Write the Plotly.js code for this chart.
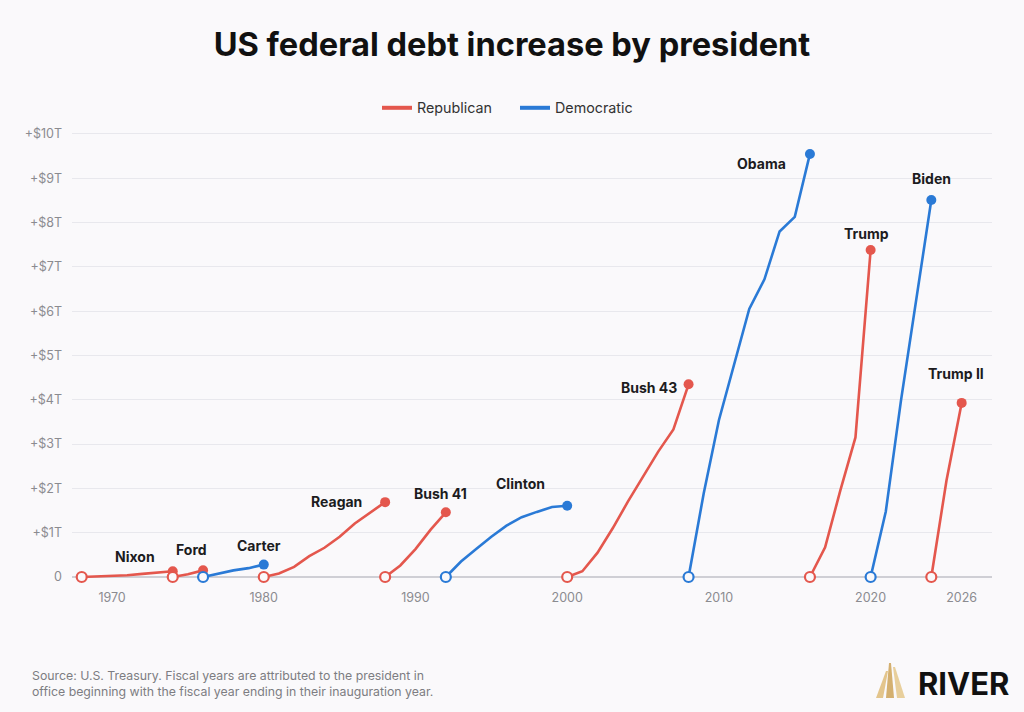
<!DOCTYPE html>
<html><head><meta charset="utf-8">
<script src="https://cdn.plot.ly/plotly-3.0.1.min.js"></script>
<style>html,body{margin:0;padding:0;background:#faf9fb}#chart{width:1024px;height:712px}</style>
</head><body><div id="chart"></div>
<script>
// ---------- DATA (debt increase since start of term, $ trillions) ----------
const presidents = ['Nixon','Ford','Carter','Reagan','Bush 41','Clinton','Bush 43','Obama','Trump','Biden','Trump II'];
const parties    = ['Republican','Republican','Democratic','Republican','Republican','Democratic','Republican','Democratic','Republican','Democratic','Republican'];

const nixonYears   = [1968,1969,1970,1971,1972,1973,1974];
const nixonValues  = [0, 0.01, 0.02, 0.04, 0.07, 0.10, 0.13];
const fordYears    = [1974,1975,1976];
const fordValues   = [0, 0.06, 0.15];
const carterYears  = [1976,1977,1978,1979,1980];
const carterValues = [0, 0.08, 0.15, 0.20, 0.28];
const reaganYears  = [1980,1981,1982,1983,1984,1985,1986,1987,1988];
const reaganValues = [0, 0.08, 0.23, 0.47, 0.66, 0.91, 1.21, 1.44, 1.69];
const bush41Years  = [1988,1989,1990,1991,1992];
const bush41Values = [0, 0.26, 0.63, 1.07, 1.46];
const clintonYears = [1992,1993,1994,1995,1996,1997,1998,1999,2000];
const clintonValues= [0, 0.35, 0.63, 0.91, 1.16, 1.35, 1.47, 1.58, 1.61];
const bush43Years  = [2000,2001,2002,2003,2004,2005,2006,2007,2008];
const bush43Values = [0, 0.13, 0.55, 1.10, 1.70, 2.26, 2.83, 3.33, 4.35];
const obamaYears   = [2008,2009,2010,2011,2012,2013,2014,2015,2016];
const obamaValues  = [0, 1.89, 3.54, 4.77, 6.05, 6.72, 7.80, 8.13, 9.55];
const trumpYears   = [2016,2017,2018,2019,2020];
const trumpValues  = [0, 0.67, 1.95, 3.15, 7.38];
const bidenYears   = [2020,2021,2022,2023,2024];
const bidenValues  = [0, 1.48, 3.98, 6.22, 8.51];
const trump2Years  = [2024,2025,2026];
const trump2Values = [0, 2.18, 3.93];

const yearsList  = [nixonYears,fordYears,carterYears,reaganYears,bush41Years,clintonYears,bush43Years,obamaYears,trumpYears,bidenYears,trump2Years];
const valuesList = [nixonValues,fordValues,carterValues,reaganValues,bush41Values,clintonValues,bush43Values,obamaValues,trumpValues,bidenValues,trump2Values];

const yTickVals  = [0,1,2,3,4,5,6,7,8,9,10];
const yTickText  = ['0','+$1T','+$2T','+$3T','+$4T','+$5T','+$6T','+$7T','+$8T','+$9T','+$10T'];
const xTickVals  = [1970,1980,1990,2000,2010,2020,2026];
const xTickText  = ['1970','1980','1990','2000','2010','2020','2026'];

// ---------- STYLE ----------
const BG = '#faf9fb';
const partyColor = {Republican:'#e4574d', Democratic:'#2a7ad6'};
// label offsets from each term's end point (pixels: dx, dy up)
const labelShift = {
  'Nixon':[-38,15], 'Ford':[-12,21], 'Carter':[-5,19], 'Reagan':[-49,1], 'Bush 41':[-5,19],
  'Clinton':[-47,22], 'Bush 43':[-40,-3], 'Obama':[-48,-10], 'Trump':[-4,17], 'Biden':[0,21], 'Trump II':[-6,29]
};
const FONT = 'Inter, "Noto Sans", sans-serif';

const L = 72, R = 32, T = 128, B = 124, W = 1024 - L - R, H = 712 - T - B;
const px = x => (x - L) / W;
const py = y => (712 - B - y) / H;

const traces = [];
// legend-only traces
['Republican','Democratic'].forEach(p => traces.push({
  x:[null], y:[null], type:'scatter', mode:'lines', name:p,
  line:{color:partyColor[p], width:4}, showlegend:true, hoverinfo:'skip'
}));
// lines
presidents.forEach((n,i) => traces.push({
  x:yearsList[i], y:valuesList[i], type:'scatter', mode:'lines', name:n,
  line:{color:partyColor[parties[i]], width:2.6}, showlegend:false
}));
// end markers (filled)
presidents.forEach((n,i) => { const ys=yearsList[i], vs=valuesList[i];
  traces.push({x:[ys[ys.length-1]], y:[vs[vs.length-1]], type:'scatter', mode:'markers', showlegend:false, name:n,
    marker:{color:partyColor[parties[i]], size:10, line:{width:0}}});
});
// start markers (open)
presidents.forEach((n,i) => { const ys=yearsList[i], vs=valuesList[i];
  traces.push({x:[ys[0]], y:[vs[0]], type:'scatter', mode:'markers', showlegend:false, name:n,
    marker:{color:BG, size:10, line:{width:2.2, color:partyColor[parties[i]]}}});
});

const annotations = presidents.map((n,i) => {
  const ys=yearsList[i], vs=valuesList[i];
  return {x:ys[ys.length-1], y:vs[vs.length-1], xref:'x', yref:'y', text:'<b>'+n+'</b>', showarrow:false,
    xanchor:'center', yanchor:'middle', xshift:labelShift[n][0], yshift:labelShift[n][1],
    font:{family:FONT, size:14, color:'#1c1c1e'}};
});
annotations.push({
  xref:'paper', yref:'paper', x:px(30), y:py(666), xanchor:'left', yanchor:'top', align:'left', showarrow:false,
  text:'Source: U.S. Treasury. Fiscal years are attributed to the president in<br>office beginning with the fiscal year ending in their inauguration year.',
  font:{family:FONT, size:12.3, color:'#7d7d82'}
});
annotations.push({
  xref:'paper', yref:'paper', x:px(916), y:py(683), xanchor:'left', yanchor:'middle', showarrow:false,
  text:'<b>RIVER</b>', font:{family:FONT, size:31, color:'#111'}
});

function poly(pts){ return 'M' + pts.map(p => px(p[0]) + ',' + py(p[1])).join('L') + 'Z'; }
const shapes = [
  {type:'path', xref:'paper', yref:'paper', path:poly([[886,671],[888,671],[883,698],[876,698]]), fillcolor:'#e3c58c', line:{width:0}},
  {type:'path', xref:'paper', yref:'paper', path:poly([[889,663],[891,663],[894,698],[886,698]]), fillcolor:'#d4b070', line:{width:0}},
  {type:'path', xref:'paper', yref:'paper', path:poly([[893,667],[895,667],[905,698],[897,698]]), fillcolor:'#e8cf9c', line:{width:0}}
];

const layout = {
  width:1024, height:712, paper_bgcolor:BG, plot_bgcolor:BG,
  margin:{l:L, r:R, t:T, b:B, pad:0, autoexpand:false},
  title:{text:'<b>US federal debt increase by president</b>', x:512/1024, xref:'container', xanchor:'center', y:1 - 45/712, yref:'container', yanchor:'middle',
    font:{family:FONT, size:32.6, color:'#111'}},
  font:{family:FONT},
  showlegend:true,
  legend:{orientation:'h', x:px(377), xanchor:'left', y:py(108), yanchor:'middle', font:{family:FONT, size:14.3, color:'#333'},
    itemwidth:30, entrywidth:93, bgcolor:'rgba(0,0,0,0)', traceorder:'normal'},
  xaxis:{range:[1967.36, 2028.0], tickvals:xTickVals, ticktext:xTickText, showgrid:false, zeroline:false, showline:false,
    ticks:'', tickfont:{family:FONT, size:12.5, color:'#8b8b90'}, fixedrange:true, automargin:false},
  yaxis:{range:[-0.248, 10.135], tickvals:yTickVals, ticktext:yTickText, showgrid:true, gridcolor:'#e8e8ed', gridwidth:1,
    zeroline:true, zerolinecolor:'#cfcfd5', zerolinewidth:1.6, showline:false, ticks:'', ticklabelstandoff:9,
    tickfont:{family:FONT, size:12.5, color:'#8b8b90'}, fixedrange:true, automargin:false},
  annotations:annotations, shapes:shapes, hovermode:false
};
Plotly.newPlot('chart', traces, layout, {displayModeBar:false, staticPlot:true});
</script></body></html>
